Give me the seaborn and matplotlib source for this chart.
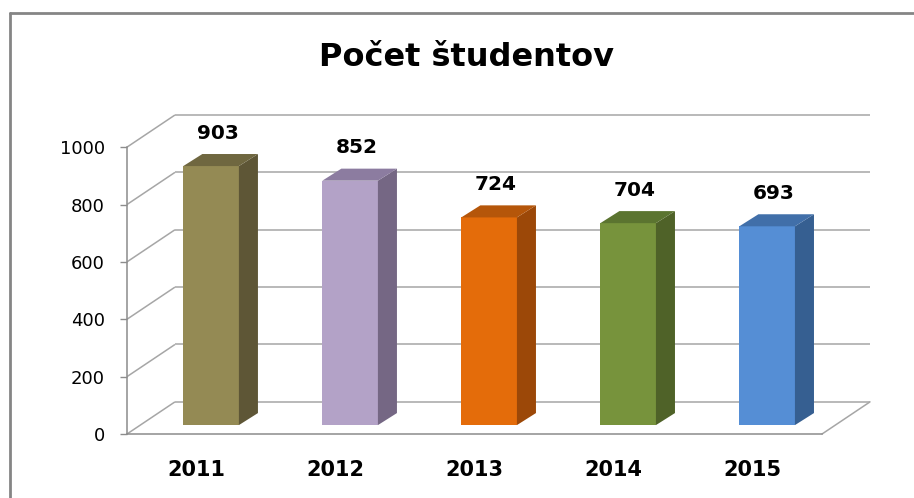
import matplotlib
matplotlib.use("Agg")
import matplotlib.pyplot as plt
from matplotlib.patches import Polygon
from matplotlib.lines import Line2D
import seaborn as sns
import pandas as pd

# ---- data ----
years = ["2011", "2012", "2013", "2014", "2015"]
values = [903, 852, 724, 704, 693]
front_colors = ["#948A54", "#B3A2C7", "#E46C0A", "#77933C", "#558ED5"]
top_colors = ["#6F6740", "#8C7CA0", "#B5560A", "#5B7430", "#416FA9"]
side_colors = ["#5E5636", "#756784", "#9C4808", "#4F6228", "#365F91"]
y_ticks = [0, 200, 400, 600, 800, 1000]
title = "Počet študentov"

sns.set_style("white")
plt.rcParams["font.family"] = ["DejaVu Sans"]

W, H = 914, 498
fig = plt.figure(figsize=(W / 100, H / 100), dpi=100)
ax = fig.add_axes([127 / W, (H - 434) / H, (870 - 127) / W, (434 - 115) / H])

df = pd.DataFrame({"rok": years, "pocet": values})
sns.barplot(data=df, x="rok", y="pocet", hue="rok", palette=front_colors,
            width=0.4, dodge=False, legend=False, saturation=1,
            linewidth=0, ax=ax, zorder=3)

# 3D geometry (in data units)
DX, DY = 0.345, 112      # wall depth offset
BX, BY = 0.105, 31       # bar front plane offset
SX, SY = 0.137, 42       # bar depth

grid_c = "#A6A6A6"
ax.set_xlim(-0.5, 4.5 + DX)
ax.set_ylim(0, 1000 + DY)

# back wall / side wall gridlines
for v in y_ticks:
    ax.plot([-0.5, -0.5 + DX], [v, v + DY], color=grid_c, lw=1.1, zorder=1,
            solid_capstyle="butt", clip_on=False)
    ax.plot([-0.5 + DX, 4.5 + DX], [v + DY, v + DY], color=grid_c, lw=1.1,
            zorder=1, solid_capstyle="butt", clip_on=False)
ax.plot([4.5, 4.5 + DX], [0, DY], color=grid_c, lw=1.1, zorder=1,
        clip_on=False)

patches = sorted(ax.patches, key=lambda p: p.get_x())
for i, p in enumerate(patches):
    x0 = p.get_x() + BX
    y0 = p.get_y() + BY
    w = p.get_width()
    h = p.get_height()
    p.set_x(x0)
    p.set_y(y0)
    side = Polygon([(x0 + w, y0), (x0 + w + SX, y0 + SY),
                    (x0 + w + SX, y0 + h + SY), (x0 + w, y0 + h)],
                   closed=True, facecolor=side_colors[i], edgecolor="none",
                   zorder=3)
    top = Polygon([(x0, y0 + h), (x0 + SX, y0 + h + SY),
                   (x0 + w + SX, y0 + h + SY), (x0 + w, y0 + h)],
                  closed=True, facecolor=top_colors[i], edgecolor="none",
                  zorder=3)
    ax.add_patch(side)
    ax.add_patch(top)
    ax.annotate(f"{values[i]}", xy=(x0 + w / 2 + SX * 0.35, y0 + h + SY),
                xytext=(0, 15), textcoords="offset points", ha="center",
                va="center", fontsize=14.5, fontweight="bold", color="#000000")

ax.set_xlabel("")
ax.set_ylabel("")
ax.set_yticks(y_ticks)
ax.set_yticklabels([str(t) for t in y_ticks], fontsize=13)
ax.set_xticks(range(len(years)))
ax.set_xticklabels(years, fontsize=15, fontweight="bold")
ax.set_xticks([i - 0.5 for i in range(len(years) + 1)], minor=True)
ax.tick_params(axis="x", which="major", length=0, pad=19, labelcolor="black")
ax.tick_params(axis="x", which="minor", length=4.3, width=1, color="#8C8C8C",
               direction="out")
ax.tick_params(axis="y", length=5, width=1, color="#8C8C8C", pad=11,
               direction="out", left=True, labelcolor="black")

for s in ["top", "right"]:
    ax.spines[s].set_visible(False)
ax.spines["left"].set_bounds(0, 1000)
ax.spines["bottom"].set_bounds(-0.5, 4.5)
for s in ["left", "bottom"]:
    ax.spines[s].set_color("#8C8C8C")
    ax.spines[s].set_linewidth(1.1)
    ax.spines[s].set_zorder(2)
ax.patch.set_visible(False)
ax.grid(False)

# chart frame
fig.add_artist(Line2D([9.5 / W, 9.5 / W], [0, 1 - 13.5 / H], color="#858585",
                      lw=2, transform=fig.transFigure))
fig.add_artist(Line2D([9.5 / W, 1], [1 - 13.5 / H, 1 - 13.5 / H],
                      color="#858585", lw=2, transform=fig.transFigure))

fig.text(467 / W, 1 - 57 / H, title, ha="center", va="center", fontsize=23,
         fontweight="bold", color="#000000")

fig.savefig("out.png", dpi=100)
